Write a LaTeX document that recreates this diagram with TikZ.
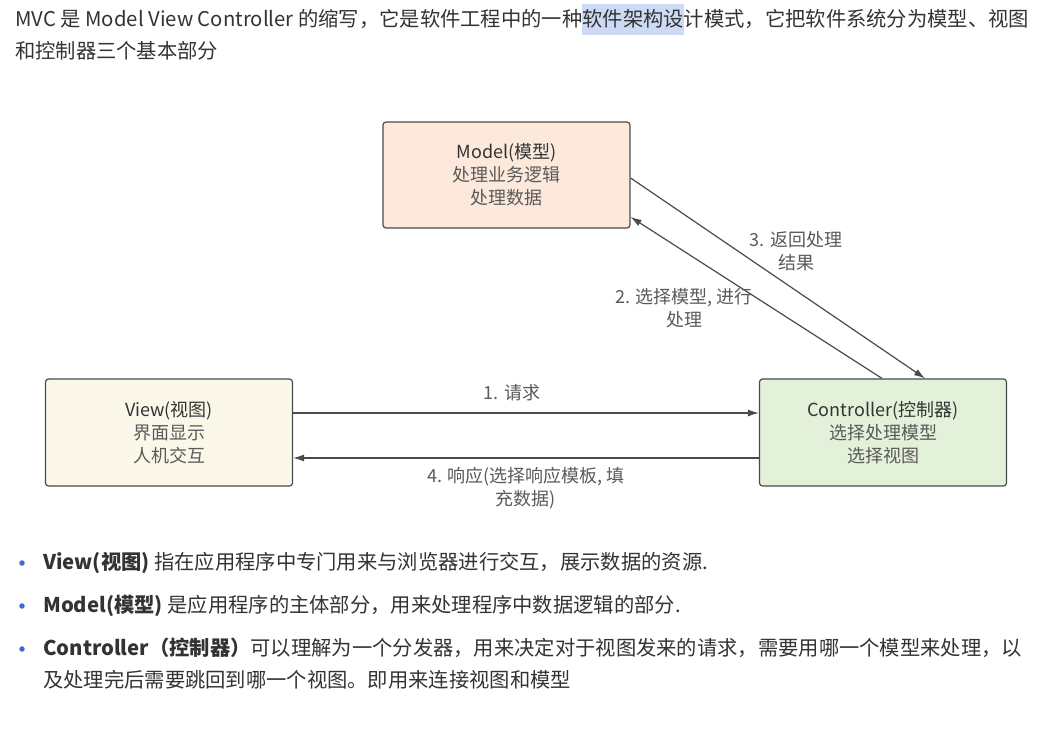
\documentclass[tikz,border=0pt]{standalone}
\usepackage{fontspec}
\setmainfont{Noto Sans CJK SC}
\usetikzlibrary{arrows.meta}
\definecolor{txt}{HTML}{333333}
\definecolor{sub}{HTML}{5A5A5A}
\definecolor{edge}{HTML}{4A4A4A}
\definecolor{hl}{HTML}{CCDAF5}
\definecolor{modelfill}{HTML}{FCE9DC}
\definecolor{viewfill}{HTML}{FBF7E9}
\definecolor{ctrlfill}{HTML}{E4F1DA}
\definecolor{bul}{HTML}{3A6CC9}
\tikzset{
  box/.style={draw=edge, line width=1.2pt, rounded corners=3pt, minimum width=247pt, minimum height=106pt,
    align=center, text=sub, font=\fontsize{18}{23}\selectfont, inner sep=0pt},
  arr/.style={draw=edge, line width=1.2pt, -{Latex[length=11pt,width=7pt]}},
  lab/.style={text=sub, font=\fontsize{18}{23}\selectfont, align=center, inner sep=0pt},
  para/.style={anchor=base west, text=txt, font=\fontsize{20.3}{20}\selectfont, inner sep=0pt},
  dot/.style={circle, fill=bul, minimum size=5.5pt, inner sep=0pt}
}
\begin{document}
\begin{tikzpicture}[x=1pt,y=-1pt]
\path[fill=white, use as bounding box] (0,0) rectangle (1053,743);
% top paragraph
\node[para] (p1) at (15,27) {MVC 是 Model View Controller 的缩写，它是软件工程中的一种{\setlength{\fboxsep}{0pt}\colorbox{hl}{\rule[-8pt]{0pt}{31pt}软件架构设}}计模式，它把软件系统分为模型、视图};
\node[para] (p2) at (15,59) {和控制器三个基本部分};
% boxes
\node[box, fill=modelfill] (model) at (506.5,175) {{\color{txt}Model(模型)}\\处理业务逻辑\\处理数据};
\node[box, fill=viewfill, minimum height=107pt] (view) at (169,432.5) {{\color{txt}View(视图)}\\界面显示\\人机交互};
\node[box, fill=ctrlfill, minimum height=107pt] (ctrl) at (883,432.5) {{\color{txt}Controller(控制器)}\\选择处理模型\\选择视图};
% connectors
\draw[arr] ([yshift=19.5pt]view.east) -- ([yshift=19.5pt]ctrl.west);
\draw[arr] ([yshift=-25.5pt]ctrl.west) -- ([yshift=-25.5pt]view.east);
\draw[arr] ([xshift=-1pt]ctrl.north) -- ([yshift=-42pt]model.east);
\draw[arr] ([yshift=-3pt]model.east) -- ([xshift=42pt]ctrl.north);
% labels
\node[lab] (l1) at (512,393) {1. 请求};
\node[lab] (l4) at (526,488.5) {4. 响应(选择响应模板, 填\\充数据)};
\node[lab] (l3) at (796,251.5) {3. 返回处理\\结果};
\node[lab] (l2) at (684,308.5) {2. 选择模型, 进行\\处理};
% bullets
\node[dot] (b1) at (22,563) {};
\node[dot] (b2) at (22,606) {};
\node[dot] (b3) at (22,649) {};
\node[para] (t1) at (43,569) {\textbf{View(视图)} 指在应用程序中专门用来与浏览器进行交互，展示数据的资源.};
\node[para] (t2) at (43,612) {\textbf{Model(模型)} 是应用程序的主体部分，用来处理程序中数据逻辑的部分.};
\node[para] (t3) at (43,655) {\textbf{Controller（控制器）}可以理解为一个分发器，用来决定对于视图发来的请求，需要用哪一个模型来处理，以};
\node[para] (t4) at (43,687) {及处理完后需要跳回到哪一个视图。即用来连接视图和模型};
\end{tikzpicture}
\end{document}
